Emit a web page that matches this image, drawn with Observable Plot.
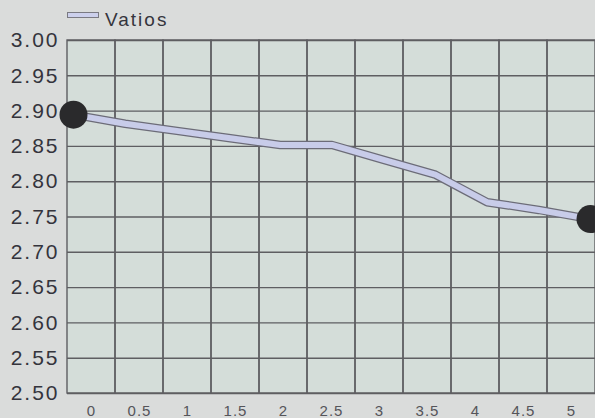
<!DOCTYPE html>
<html>
<head>
<meta charset="utf-8">
<script src="https://cdn.jsdelivr.net/npm/d3@7"></script>
<script src="https://cdn.jsdelivr.net/npm/@observablehq/plot@0.6"></script>
<style>
  html, body { margin: 0; padding: 0; background: #dadcdb; overflow: hidden; }
  #wrap { position: relative; width: 595px; height: 418px; font-family: "Liberation Sans", Arial, sans-serif; }
  #legend { position: relative; height: 30px; }
  #swatch { position: absolute; left: 67px; top: 12px; width: 32px; height: 6px; box-sizing: border-box; border: 1px solid #7a7a82; background: #ccd0ec; }
  #ltext { position: absolute; left: 105px; top: 10px; font-size: 19px; line-height: 19px; letter-spacing: 2px; color: #35353d; }
  .layer { position: absolute; left: 0; top: 30px; }
</style>
</head>
<body>
<div id="wrap">
  <div id="legend"><div id="swatch"></div><div id="ltext">Vatios</div></div>
</div>
<script>
// Data
const xLabels = ["0", "0.5", "1", "1.5", "2", "2.5", "3", "3.5", "4", "4.5", "5"];
const yTicks = [2.50, 2.55, 2.60, 2.65, 2.70, 2.75, 2.80, 2.85, 2.90, 2.95, 3.00];
const xValues = [0, 0.5, 1, 1.5, 2, 2.5, 3, 3.5, 4, 4.5, 5];
const vatios = [2.895, 2.882, 2.872, 2.862, 2.852, 2.852, 2.831, 2.810, 2.771, 2.760, 2.747];

const points = xValues.map((x, i) => ({x, y: vatios[i]}));
const ends = [points[0], points[points.length - 1]];

const common = {
  width: 595, height: 388, marginTop: 10, marginBottom: 25,
  y: {domain: [2.5, 3.0], axis: null}
};
const grid = "#5e5e62";

const plotA = Plot.plot({
  ...common,
  marginLeft: 67, marginRight: 0,
  x: {type: "band", domain: xLabels, padding: 0, axis: null},
  style: {background: "transparent", overflow: "visible", fontFamily: "'Liberation Sans', Arial, sans-serif"},
  marks: [
    Plot.frame({fill: "#d4ddd9", stroke: "none"}),
    Plot.ruleY(yTicks, {y: d => d, stroke: grid, strokeWidth: 1.4}),
    Plot.barY(xLabels, {x: d => d, y1: 2.5, y2: 3.0, fill: "none", stroke: grid, strokeWidth: 1.4}),
    Plot.text(yTicks, {y: d => d, frameAnchor: "left", dx: -8, textAnchor: "end", text: d => d.toFixed(2), fontSize: 21, fill: "#34343c"}),
    Plot.text(xLabels, {x: d => d, frameAnchor: "bottom", dy: 17.5, text: d => d, fontSize: 15, fill: "#55555a", lineAnchor: "middle"})
  ]
});
plotA.classList.add("layer");
const textGroups = plotA.querySelectorAll('g[aria-label="text"]');
if (textGroups[0]) textGroups[0].setAttribute("letter-spacing", "2px");
if (textGroups[1]) textGroups[1].setAttribute("letter-spacing", "1px");

const plotB = Plot.plot({
  ...common,
  marginLeft: 73, marginRight: 5,
  x: {domain: [0, 5], axis: null},
  style: {background: "transparent", overflow: "visible"},
  marks: [
    Plot.line(points, {x: "x", y: "y", stroke: "#6c6c78", strokeWidth: 8.5, strokeLinejoin: "miter", strokeLinecap: "butt"}),
    Plot.line(points, {x: "x", y: "y", stroke: "#c8cce9", strokeWidth: 6, strokeLinejoin: "miter", strokeLinecap: "butt"}),
    Plot.dot(ends, {x: "x", y: "y", r: 14, fill: "#2a2a2c"})
  ]
});
plotB.classList.add("layer");

const wrap = document.getElementById("wrap");
wrap.appendChild(plotA);
wrap.appendChild(plotB);
</script>
</body>
</html>
